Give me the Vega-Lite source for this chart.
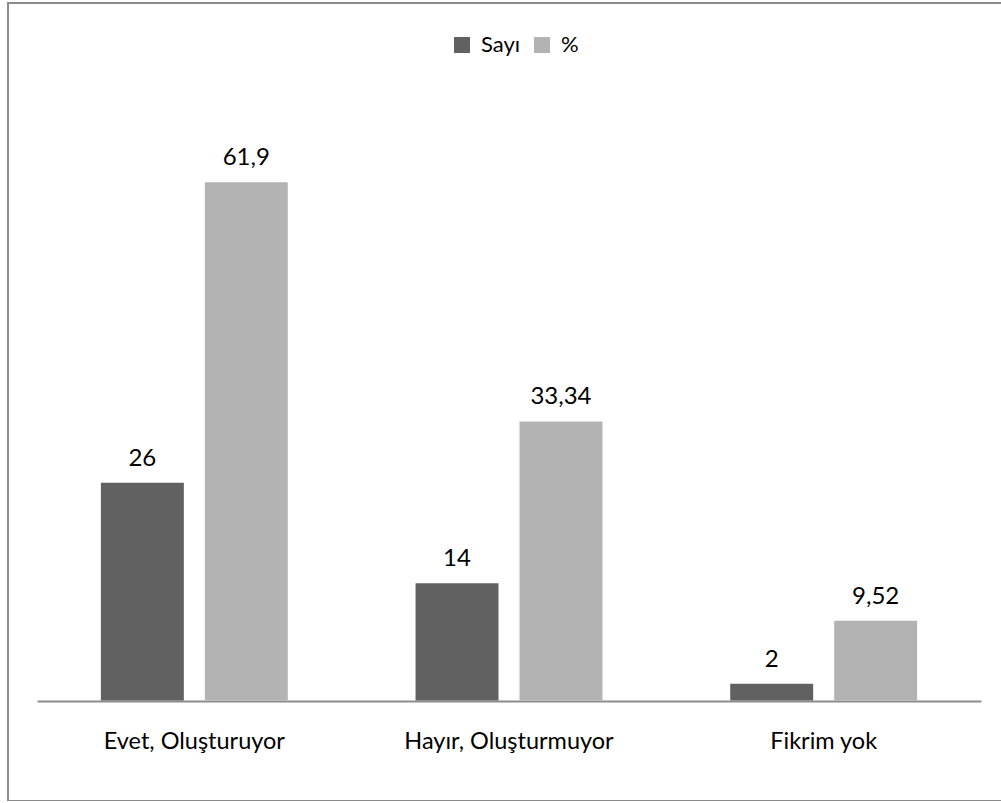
{
  "$schema": "https://vega.github.io/schema/vega-lite/v6.json",
  "width": 994,
  "height": 798,
  "autosize": {"type": "none"},
  "padding": {"left": 8, "top": 3, "right": 0, "bottom": 0},
  "background": "white",
  "config": {
    "font": "Lato",
    "locale": {"number": {"decimal": ",", "thousands": ".", "grouping": [3], "currency": ["", " TL"]}},
    "view": {"stroke": "#8c8c8c", "strokeWidth": 2}
  },
  "data": {
    "values": [
      {"cat": "Evet, Oluşturuyor", "series": "Sayı", "value": 26},
      {"cat": "Evet, Oluşturuyor", "series": "%", "value": 61.9},
      {"cat": "Hayır, Oluşturmuyor", "series": "Sayı", "value": 14},
      {"cat": "Hayır, Oluşturmuyor", "series": "%", "value": 33.34},
      {"cat": "Fikrim yok", "series": "Sayı", "value": 2},
      {"cat": "Fikrim yok", "series": "%", "value": 9.52}
    ]
  },
  "encoding": {
    "x": {
      "field": "cat", "type": "nominal", "sort": null,
      "scale": {"range": [29, 973], "paddingInner": 0.406, "paddingOuter": 0.203},
      "axis": {
        "title": null, "labelAngle": 0, "offset": -100, "ticks": false,
        "domainColor": "#8c8c8c", "domainWidth": 2,
        "labelFontSize": 23.5, "labelColor": "#000000", "labelPadding": 28,
        "labelFont": "Lato", "labelLimit": 0
      }
    },
    "xOffset": {
      "field": "series", "type": "nominal", "sort": ["Sayı", "%"],
      "scale": {"paddingInner": 0.202, "paddingOuter": 0}
    },
    "y": {
      "field": "value", "type": "quantitative",
      "scale": {"domain": [0, 70], "range": [697.5, 111.5], "nice": false, "zero": true},
      "axis": null
    }
  },
  "layer": [
    {
      "mark": {"type": "bar"},
      "encoding": {
        "color": {
          "field": "series", "type": "nominal", "sort": ["Sayı", "%"],
          "scale": {"domain": ["Sayı", "%"], "range": ["#616161", "#b3b3b3"]},
          "legend": {
            "title": null, "orient": "none", "direction": "horizontal",
            "legendX": 443, "legendY": 31,
            "symbolType": "square", "symbolSize": 256, "symbolStrokeWidth": 0,
            "labelFontSize": 22, "labelColor": "#000000", "columnPadding": 10,
            "labelOffset": 8
          }
        }
      }
    },
    {
      "mark": {"type": "text", "dy": -24, "fontSize": 24, "color": "#000000", "baseline": "middle"},
      "encoding": {
        "text": {"field": "value", "type": "quantitative", "format": ""}
      }
    }
  ]
}
